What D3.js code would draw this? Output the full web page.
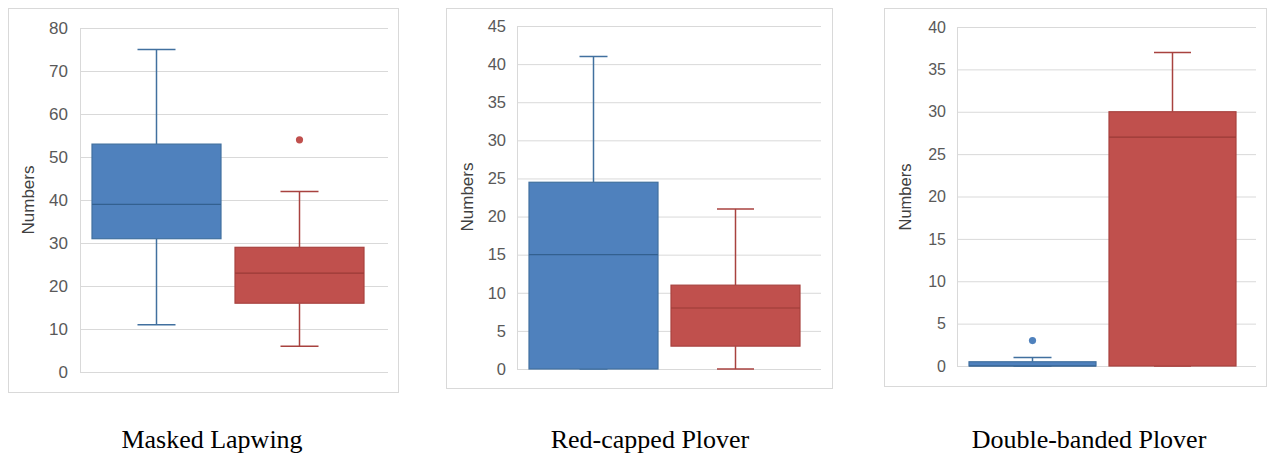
<!DOCTYPE html>
<html>
<head>
<meta charset="utf-8">
<script src="https://cdn.jsdelivr.net/npm/d3@7"></script>
<style>
  html, body { margin: 0; padding: 0; background: #fff; }
  svg { display: block; }
</style>
</head>
<body>
<svg id="chart" width="1267" height="459"></svg>
<script>
// ---- data ----
const species = ["Masked Lapwing", "Red-capped Plover", "Double-banded Plover"];
const groups = ["Group 1", "Group 2"];
const whiskerLow  = [[11, 6], [0, 0], [0, 0]];
const q1          = [[31, 16], [0, 3], [0, 0]];
const median      = [[39, 23], [15, 8], [0, 27]];
const q3          = [[53, 29], [24.5, 11], [0.5, 30]];
const whiskerHigh = [[75, 42], [41, 21], [1, 37]];
const outliers    = [[[], [54]], [[], []], [[3], []]];
const yMax  = [80, 45, 40];
const yStep = [10, 5, 5];
const yAxisTitle = "Numbers";

// ---- layout ----
const frames = [
  {x0: 8,   y0: 8, x1: 398,  y1: 392, ax: 80,  gx: 388,  yt: 28, yb: 372, bw: 129, gap: 14, lab: 68,  tx: 28,  ty: 200, fs: 17, tfs: 17},
  {x0: 446, y0: 8, x1: 832,  y1: 388, ax: 517, gx: 821,  yt: 26, yb: 369, bw: 129, gap: 13, lab: 506, tx: 467, ty: 197, fs: 16.5, tfs: 17},
  {x0: 884, y0: 8, x1: 1266, y1: 386, ax: 957, gx: 1256, yt: 27, yb: 366, bw: 127, gap: 13, lab: 946, tx: 905, ty: 197, fs: 16, tfs: 16.5}
];
const caps = [[38, 38], [28, 37], [38, 37]];
const titleX = [212, 650, 1089];
const fills   = ["#4F81BD", "#C0504D"];
const strokes = ["#41709F", "#A8423F"];
const medians = ["#33608F", "#9A3A37"];

const svg = d3.select("#chart");

species.forEach((sp, i) => {
  const f = frames[i];
  const g = svg.append("g");

  g.append("rect")
    .attr("x", f.x0 + 0.5).attr("y", f.y0 + 0.5)
    .attr("width", f.x1 - f.x0).attr("height", f.y1 - f.y0)
    .attr("fill", "#fff").attr("stroke", "#d9d9d9").attr("stroke-width", 1);

  const y = d3.scaleLinear().domain([0, yMax[i]]).range([f.yb, f.yt]);
  const ticks = d3.range(0, yMax[i] + 0.001, yStep[i]);

  // gridlines
  g.append("g")
    .attr("transform", `translate(${f.ax},0)`)
    .call(d3.axisLeft(y).tickValues(ticks).tickSize(-(f.gx - f.ax)).tickFormat(""))
    .call(s => s.select(".domain").remove())
    .call(s => s.selectAll("line").attr("stroke", "#d9d9d9"));

  // axis line
  g.append("line")
    .attr("x1", f.ax + 0.5).attr("x2", f.ax + 0.5)
    .attr("y1", f.yt).attr("y2", f.yb)
    .attr("stroke", "#d9d9d9");

  // tick labels
  g.append("g")
    .attr("transform", `translate(${f.lab},0)`)
    .call(d3.axisLeft(y).tickValues(ticks).tickSize(0).tickPadding(0).tickFormat(d3.format("d")))
    .call(s => s.select(".domain").remove())
    .call(s => s.selectAll("text")
      .attr("fill", "#595959")
      .style("font-family", "Liberation Sans, Arial, sans-serif")
      .style("font-size", f.fs + "px"));

  // y axis title
  g.append("text")
    .attr("transform", `translate(${f.tx},${f.ty}) rotate(-90)`)
    .attr("text-anchor", "middle").attr("dominant-baseline", "central")
    .attr("fill", "#404040")
    .style("font-family", "Liberation Sans, Arial, sans-serif")
    .style("font-size", f.tfs + "px")
    .text(yAxisTitle);

  const x = d3.scaleBand().domain(groups)
    .range([f.ax + 12, f.ax + 12 + 2 * f.bw + f.gap])
    .paddingInner(f.gap / (f.bw + f.gap)).paddingOuter(0);

  groups.forEach((grp, j) => {
    const x0 = x(grp), w = x.bandwidth(), cx = x0 + w / 2;
    const cw = caps[i][j];
    // whisker lines
    g.append("line").attr("x1", cx).attr("x2", cx)
      .attr("y1", y(whiskerHigh[i][j])).attr("y2", y(q3[i][j]))
      .attr("stroke", strokes[j]).attr("stroke-width", 1.5);
    g.append("line").attr("x1", cx).attr("x2", cx)
      .attr("y1", y(q1[i][j])).attr("y2", y(whiskerLow[i][j]))
      .attr("stroke", strokes[j]).attr("stroke-width", 1.5);
    // caps
    [whiskerHigh[i][j], whiskerLow[i][j]].forEach(v => {
      g.append("line").attr("x1", cx - cw / 2).attr("x2", cx + cw / 2)
        .attr("y1", y(v)).attr("y2", y(v))
        .attr("stroke", strokes[j]).attr("stroke-width", 1.5);
    });
    // box
    g.append("rect")
      .attr("x", x0).attr("y", y(q3[i][j]))
      .attr("width", w).attr("height", Math.max(0.5, y(q1[i][j]) - y(q3[i][j])))
      .attr("fill", fills[j]).attr("stroke", strokes[j]).attr("stroke-width", 1.2);
    // median
    g.append("line").attr("x1", x0).attr("x2", x0 + w)
      .attr("y1", y(median[i][j])).attr("y2", y(median[i][j]))
      .attr("stroke", medians[j]).attr("stroke-width", 1.2);
    // outliers
    outliers[i][j].forEach(v => {
      g.append("circle").attr("cx", cx).attr("cy", y(v)).attr("r", 3.6)
        .attr("fill", fills[j]);
    });
  });

  // species title
  svg.append("text")
    .attr("x", titleX[i]).attr("y", 448)
    .attr("text-anchor", "middle")
    .attr("fill", "#000")
    .style("font-family", "Liberation Serif, 'Times New Roman', serif")
    .style("font-size", "26px")
    .text(sp);
});
</script>
</body>
</html>
